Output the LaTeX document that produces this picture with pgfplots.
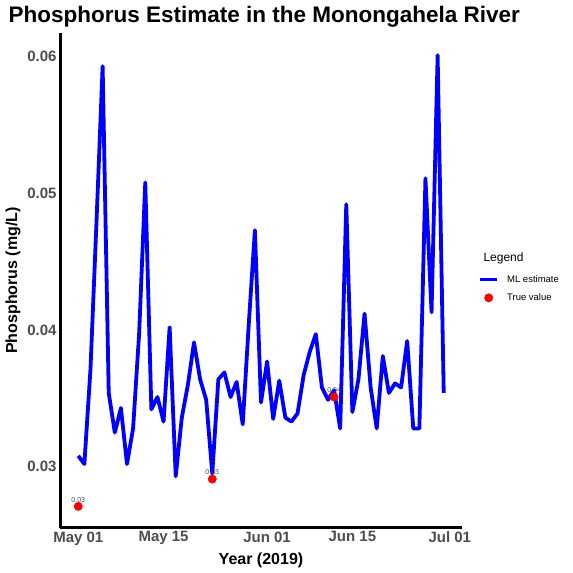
\documentclass[border=0pt]{standalone}
\usepackage{fontspec}
\setmainfont{Liberation Sans}
\usepackage{pgfplots}
\pgfplotsset{compat=1.18}
\usepackage{pgfplotstable}
\definecolor{tickgray}{HTML}{4D4D4D}
\definecolor{lblgray}{HTML}{4D4D4D}

\pgfplotstableread{
d v
0 0.0308
1 0.0302
2 0.0371
3 0.0480
4 0.0593
5 0.0354
6 0.0325
7 0.0343
8 0.0302
9 0.0328
10 0.0398
11 0.0508
12 0.0342
13 0.0351
14 0.0333
15 0.0402
16 0.0293
17 0.0336
18 0.0360
19 0.0391
20 0.0364
21 0.0349
22 0.0295
23 0.0364
24 0.0369
25 0.0351
26 0.0362
27 0.0331
28 0.0405
29 0.0473
30 0.0347
31 0.0377
32 0.0335
33 0.0363
34 0.0336
35 0.0333
36 0.0339
37 0.0367
38 0.0384
39 0.0397
40 0.0358
41 0.0349
42 0.0356
43 0.0328
44 0.0492
45 0.0340
46 0.0364
47 0.0412
48 0.0358
49 0.0328
50 0.0381
51 0.0354
52 0.0361
53 0.0358
54 0.0392
55 0.0328
56 0.0328
57 0.0511
58 0.0413
59 0.0601
60 0.0354
}\mlest

\pgfplotstableread{
d v lab
0 0.0271 0.03
22 0.0291 0.03
42 0.0351 0.04
}\truev

\begin{document}
\begin{tikzpicture}
\useasboundingbox (0,0) rectangle (573pt,573pt);
\begin{axis}[
  at={(60pt,45pt)}, anchor=south west,
  scale only axis, width=402pt, height=495pt,
  xmin=-3, xmax=63, ymin=0.02552, ymax=0.06173,
  axis x line=bottom, axis y line=left,
  axis line style={line width=3pt, -, black},
  xtick={0,14,31,45,61},
  xticklabels={May 01, May 15, Jun 01, Jun 15, Jul 01},
  ytick={0.03,0.04,0.05,0.06},
  scaled y ticks=false,
  /pgf/number format/assume math mode=true,
  yticklabel style={/pgf/number format/fixed, /pgf/number format/precision=2, /pgf/number format/fixed zerofill},
  major tick length=0pt,
  tick label style={font=\fontsize{15}{18}\selectfont\bfseries, text=tickgray},
  xlabel={Year (2019)}, ylabel={Phosphorus (mg/L)},
  label style={font=\fontsize{16}{19}\selectfont\bfseries, black},
  xlabel style={yshift=-1pt},
  clip=false,
  legend style={draw=none, fill=none, at={(1.04,0.515)}, anchor=north west,
    font=\fontsize{9.5}{11}\selectfont, row sep=6pt, inner sep=0pt,
    /tikz/every odd column/.append style={column sep=6pt}},
  legend cell align=left,
]
\addplot[blue, line width=3.8pt, line join=round] table[x=d, y=v] {\mlest};
\addlegendentry{ML estimate}
\addplot[only marks, mark=*, red, mark size=4.2pt,
  nodes near coords={\pgfplotspointmeta}, point meta=explicit symbolic,
  every node near coord/.style={font=\fontsize{7}{8}\selectfont, text=lblgray, anchor=south, inner sep=0pt, yshift=4pt}]
  table[x=d, y=v, meta=lab] {\truev};
\addlegendentry{True value}
\end{axis}
\node[anchor=base west, font=\fontsize{22.5}{26}\selectfont\bfseries] at (5pt,550.5pt) {Phosphorus Estimate in the Monongahela River};
\node[anchor=west, font=\fontsize{12}{14}\selectfont] at (480pt,315pt) {Legend};
\end{tikzpicture}
\end{document}
